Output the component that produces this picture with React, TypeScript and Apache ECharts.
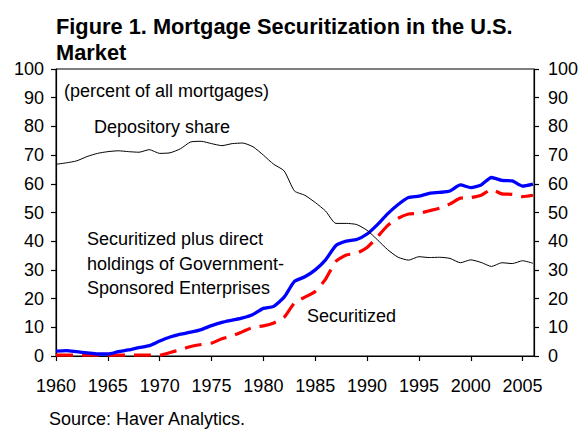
import React, { useEffect, useRef } from "react";
import * as echarts from "echarts";

const years = [
  1960, 1961, 1962, 1963, 1964, 1965, 1966, 1967, 1968, 1969,
  1970, 1971, 1972, 1973, 1974, 1975, 1976, 1977, 1978, 1979,
  1980, 1981, 1982, 1983, 1984, 1985, 1986, 1987, 1988, 1989,
  1990, 1991, 1992, 1993, 1994, 1995, 1996, 1997, 1998, 1999,
  2000, 2001, 2002, 2003, 2004, 2005, 2006,
];

const depositoryShare = [
  66.8, 67.3, 68.0, 69.5, 70.6, 71.2, 71.5, 71.2, 71.0, 71.9,
  70.6, 70.8, 72.2, 74.6, 74.8, 74.0, 73.3, 74.0, 74.2, 72.9,
  70.0, 66.8, 64.5, 57.5, 56.0, 53.5, 50.5, 46.2, 46.2, 45.8,
  43.8, 40.5, 37.0, 34.4, 33.4, 34.6, 34.3, 34.4, 34.0, 32.5,
  33.5, 32.6, 31.2, 32.5, 32.2, 33.2, 32.3,
];

const securitizedPlusGSE = [
  1.7, 1.9, 1.5, 1.1, 0.7, 0.7, 1.5, 2.1, 2.9, 3.6,
  5.2, 6.6, 7.6, 8.3, 9.2, 10.6, 11.7, 12.5, 13.3, 14.5,
  16.6, 17.3, 20.5, 26.0, 27.6, 30.0, 33.5, 38.5, 40.0, 40.6,
  42.5, 45.8, 49.6, 52.8, 55.2, 55.7, 56.7, 57.0, 57.5, 59.6,
  58.7, 59.6, 62.2, 61.2, 61.0, 59.2, 59.9,
];

const securitized = [
  0.3, 0.3, 0.3, 0.3, 0.3, 0.3, 0.3, 0.3, 0.3, 0.3,
  0.3, 1.2, 2.2, 3.3, 4.0, 4.5, 6.0, 7.0, 8.5, 10.0,
  10.5, 11.5, 13.5, 18.5, 20.5, 22.5, 26.8, 33.0, 35.2, 35.8,
  37.8, 41.5, 45.5, 48.0, 49.5, 49.7, 50.6, 51.5, 53.0, 55.0,
  55.2, 56.0, 58.0, 56.5, 56.3, 55.5, 56.0,
];

const yTicks = { min: 0, max: 100, interval: 10 };
const xRange = { min: 1960, max: 2006.1, interval: 5 };

const FONT = "'Liberation Sans', Arial, Helvetica, sans-serif";

export default function App() {
  const ref = useRef<HTMLDivElement>(null);

  useEffect(() => {
    if (!ref.current) return;
    const chart = echarts.init(ref.current, null, { renderer: "svg" });
    const pairs = (vals: number[]) => years.map((y, i) => [y, vals[i]]);
    const yAxisCommon = {
      type: "value",
      min: yTicks.min,
      max: yTicks.max,
      interval: yTicks.interval,
      splitLine: { show: false },
      axisLine: { show: true, lineStyle: { color: "#000", width: 1.2 } },
      axisTick: { show: true, inside: false, length: 5, lineStyle: { color: "#000", width: 1.2 } },
    };
    chart.setOption({
      animation: false,
      backgroundColor: "#fff",
      title: {
        text: "Figure 1. Mortgage Securitization in the U.S.\nMarket",
        left: 51,
        top: 8,
        textStyle: {
          fontFamily: FONT,
          fontSize: 21.8,
          fontWeight: "bold",
          color: "#000",
          lineHeight: 26,
        },
      },
      grid: {
        left: 56,
        right: 53,
        top: 69,
        bottom: 74,
        show: true,
        borderColor: "#000",
        borderWidth: 1,
        backgroundColor: "transparent",
      },
      xAxis: {
        type: "value",
        min: xRange.min,
        max: xRange.max,
        interval: xRange.interval,
        splitLine: { show: false },
        axisLine: { show: true, lineStyle: { color: "#000", width: 1.2 } },
        axisTick: { show: true, inside: false, length: 5, lineStyle: { color: "#000", width: 1.2 } },
        axisLabel: {
          margin: 21,
          fontFamily: FONT,
          fontSize: 18,
          color: "#000",
          showMaxLabel: false,
          formatter: (v: number) => (Math.abs(v % 5) < 1e-6 ? String(v) : ""),
        },
      },
      yAxis: [
        {
          ...yAxisCommon,
          position: "left",
          axisLabel: { margin: 12, fontFamily: FONT, fontSize: 18, color: "#000" },
        },
        {
          ...yAxisCommon,
          position: "right",
          axisLabel: { margin: 14, fontFamily: FONT, fontSize: 18, color: "#000" },
        },
      ],
      series: [
        {
          name: "Securitized plus direct holdings of GSEs",
          type: "line",
          yAxisIndex: 0,
          data: pairs(securitizedPlusGSE),
          showSymbol: false,
          smooth: 0.2,
          lineStyle: { color: "#0000FF", width: 3.3 },
          z: 3,
        },
        {
          name: "Securitized",
          type: "line",
          yAxisIndex: 0,
          data: pairs(securitized),
          showSymbol: false,
          smooth: 0.2,
          lineStyle: { color: "#FF0000", width: 3.2, type: [17, 9] },
          z: 2,
        },
        {
          name: "Depository share",
          type: "line",
          yAxisIndex: 0,
          data: pairs(depositoryShare),
          showSymbol: false,
          smooth: 0.2,
          lineStyle: { color: "#000", width: 1 },
          z: 4,
        },
      ],
      graphic: [
        {
          type: "text",
          left: 64,
          top: 82,
          style: { text: "(percent of all mortgages)", font: `18px ${FONT}`, fill: "#000" },
        },
        {
          type: "text",
          left: 94,
          top: 118,
          style: { text: "Depository share", font: `18px ${FONT}`, fill: "#000" },
        },
        {
          type: "text",
          left: 87,
          top: 227,
          style: {
            text: "Securitized plus direct\nholdings of Government-\nSponsored Enterprises",
            font: `18px ${FONT}`,
            fill: "#000",
            lineHeight: 24.5,
          },
        },
        {
          type: "text",
          left: 307,
          top: 307,
          style: { text: "Securitized", font: `18px ${FONT}`, fill: "#000" },
        },
        {
          type: "text",
          left: 49,
          top: 410,
          style: { text: "Source: Haver Analytics.", font: `18px ${FONT}`, fill: "#000" },
        },
      ],
    });
    return () => chart.dispose();
  }, []);

  return (
    <div
      ref={ref}
      style={{ position: "fixed", left: 0, top: 0, width: 587, height: 430 }}
    />
  );
}
